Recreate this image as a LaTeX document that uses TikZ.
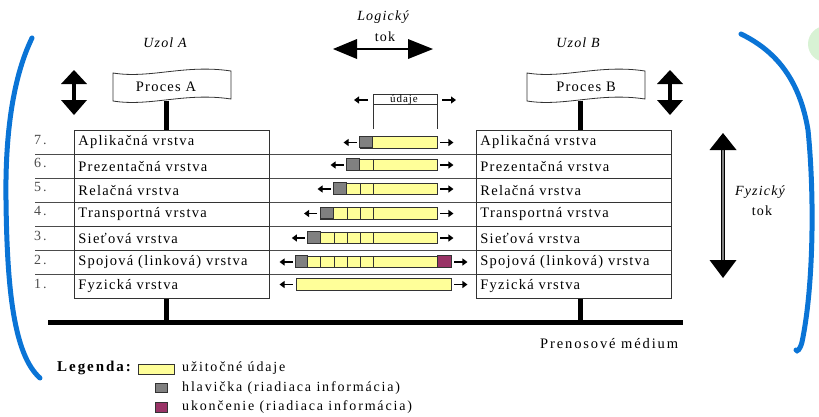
\documentclass[tikz,border=0pt]{standalone}
\usepackage{fontspec}
\setmainfont[LetterSpace=8.5]{Liberation Serif}
\newfontfamily\widefont[LetterSpace=13]{Liberation Serif}
\usetikzlibrary{arrows.meta}
\definecolor{payload}{HTML}{FFFF99}
\definecolor{hdrgray}{HTML}{808080}
\definecolor{trailer}{HTML}{993366}
\definecolor{penblue}{HTML}{0A74D6}
\definecolor{mint}{HTML}{D8F2D4}
\definecolor{edge}{gray}{0.2}
\definecolor{rule}{gray}{0.3}

\tikzset{
  txt/.style={inner sep=0pt, font=\fontsize{14}{16}\selectfont},
  itxt/.style={txt, font=\fontsize{14}{16}\selectfont\itshape},
  wtxt/.style={inner sep=0pt, anchor=west, font=\widefont\fontsize{14}{16}\selectfont},
  layer/.style={draw=edge, line width=0.9pt, minimum width=195pt, minimum height=24pt,
    text width=187pt, align=left, inner xsep=4pt, inner ysep=0pt, anchor=north west,
    font=\fontsize{14.5}{16}\selectfont},
  sepline/.style={draw=rule, line width=0.9pt},
  bar/.style={draw=edge, line width=0.9pt, fill=payload, minimum height=11.5pt, inner sep=0pt},
  cell/.style={draw=edge, line width=0.9pt},
  smallarr/.style={line width=1.1pt, -{Triangle[length=5pt,width=7pt]}},
  lnum/.style={inner sep=0pt, anchor=west, text=black!70, font=\widefont\fontsize{14}{15}\selectfont},
  stem/.style={line width=5pt},
}

\begin{document}
\begin{tikzpicture}[x=1pt,y=-1pt]
\useasboundingbox (0,0) rectangle (819,416);

% hand-drawn marks around the figure
\fill[mint] (826,44) circle (18);
\draw[penblue, line width=5pt, line cap=round]
  (32,38) .. controls (14,75) and (5,130) .. (6,200)
  .. controls (7,290) and (14,355) .. (40,378);
\draw[penblue, line width=5pt, line cap=round]
  (741,34) .. controls (778,52) and (800,82) .. (808,130)
  .. controls (815,200) and (813,290) .. (802,342)
  .. controls (800,350) and (797,352) .. (796,350);

% node headings
\node[itxt] (uzA) at (165,43) {Uzol A};
\node[itxt] (uzB) at (578,43) {Uzol B};

% logical flow
\node[itxt] (logt) at (383,17) {Logický};
\node[txt] (logt2) at (385,37) {tok};
\coordinate (lgL) at (333,49);
\coordinate (lgR) at (433,49);
\draw[line width=2.5pt] (lgL) ++(20,0) -- (413,49);
\fill (lgL) -- ++(24,-10) -- ++(0,20) -- cycle;
\fill (lgR) -- ++(-25,-10) -- ++(0,20) -- cycle;

% vertical double arrows next to the processes
\foreach \cx in {74,670}{
  \draw[line width=4pt] (\cx,82) -- (\cx,102);
  \fill (\cx,70) -- (\cx-13,84) -- (\cx+13,84) -- cycle;
  \fill (\cx,115) -- (\cx-13,100) -- (\cx+13,100) -- cycle;
}

% process banners
\draw[edge, line width=0.8pt, fill=white]
  (113,73) .. controls (150,79) and (185,64) .. (231,71) -- (231,99)
  .. controls (185,92) and (150,107) .. (113,101) -- cycle;
\node[txt, font=\fontsize{14.5}{16}\selectfont, minimum width=118pt, minimum height=28pt] (procA) at (166,87) {Proces A};
\draw[edge, line width=0.8pt, fill=white]
  (527,73) .. controls (564,79) and (599,64) .. (645,71) -- (645,99)
  .. controls (599,92) and (564,107) .. (527,101) -- cycle;
\node[txt, font=\fontsize{14.5}{16}\selectfont, minimum width=118pt, minimum height=28pt] (procB) at (586,87) {Proces B};

% layer stacks
\foreach \i/\t/\y in {7/Aplikačná vrstva/130, 6/Prezentačná vrstva/154, 5/Relačná vrstva/178,
    4/Transportná vrstva/202, 3/Sieťová vrstva/226, 2/Spojová (linková) vrstva/250, 1/Fyzická vrstva/274}{
  \node[layer] (A\i) at (74,\y) {\t};
  \node[layer] (B\i) at (476,\y) {\t};
}
\foreach \i/\y in {7/140,6/163,5/187,4/211,3/236,2/260,1/284}{
  \node[lnum] (n\i) at (34,\y) {\i.};
}

% boundaries between layers
\coordinate (lft) at (35,0);
\foreach \i in {7,6,5,4,3,2}{
  \draw[sepline] (A\i.south west) -- (A\i.south west -| lft);
  \draw[sepline] (A\i.south east) -- (B\i.south west);
}

% stems and transmission medium
\coordinate (sA) at (166,0);
\coordinate (sB) at (580,0);
\coordinate (medL) at (48,322);
\coordinate (medR) at (683,322);
\draw[stem] (procA.south -| sA) -- (A7.north -| sA);
\draw[stem] (procB.south -| sB) -- (B7.north -| sB);
\draw[stem] (A1.south -| sA) -- (medL -| sA);
\draw[stem] (B1.south -| sB) -- (medR -| sB);
\draw[stem] (medL) -- (medR);
\node[wtxt, font=\widefont\fontsize{14.5}{16}\selectfont] (med) at (540,344) {Prenosové médium};

% user data bracket
\draw[edge, line width=0.8pt] (373,129) -- (373,94) -- (437,94) -- (437,129);
\draw[edge, line width=0.8pt] (373,104.5) -- (437,104.5);
\node[inner sep=0pt, font=\fontsize{11}{12}\selectfont] (udaje) at (404,100) {údaje};
\draw[smallarr] (368,100) -- (354,100);
\draw[smallarr] (442,100) -- (456,100);

% encapsulated data units
\foreach \r/\s/\e/\yc in {7/360/437/142.5, 6/347/437/165, 5/334/437/189, 4/320.5/437/213.5,
    3/308.3/437/238, 2/296/451/262, 1/296/451/284.5}{
  \node[bar, minimum width={\e-\s}] (bar\r) at ({(\s+\e)/2},\yc) {};
  \draw[smallarr] ([xshift=-3pt]bar\r.west) -- ++(-13,0);
  \draw[smallarr] ([xshift=3pt]bar\r.east) -- ++(13,0);
}
% headers
\foreach \r/\w in {7/13, 6/13, 5/13, 4/13.5, 3/12.2, 2/12.3}{
  \draw[cell, fill=hdrgray] (bar\r.north west) rectangle ++(\w,11.5);
}
% trailer
\draw[cell, fill=trailer] (bar2.north east) rectangle ++(-14,11.5);
% cell dividers
\foreach \r/\ds in {6/{373}, 5/{360,373}, 4/{347,360,373}, 3/{334,347,360,373},
    2/{320.5,334,347,360,373}}{
  \foreach \x in \ds {
    \draw[cell] (bar\r.north -| \x,0) -- (bar\r.south -| \x,0);
  }
}

% physical flow
\draw[line width=4pt] (723,148) -- (723,262);
\draw[line width=1.8pt, gray] (723,148) -- (723,262);
\fill (723,133) -- (709.5,150) -- (736.5,150) -- cycle;
\fill (723,278) -- (709.5,260) -- (736.5,260) -- cycle;
\node[itxt] (fyz) at (760,192) {Fyzický};
\node[txt] (fyz2) at (762,211) {tok};

% legend
\node[inner sep=0pt, anchor=west, font=\widefont\fontsize{15}{16}\selectfont\bfseries] (leg) at (57,368) {Legenda:};
\draw[cell, fill=payload] (138,364) rectangle (174,374);
\node[wtxt] (l1) at (182,368) {užitočné údaje};
\draw[cell, fill=hdrgray] (155,383) rectangle (167,392);
\node[wtxt] (l2) at (182,388) {hlavička (riadiaca informácia)};
\draw[cell, fill=trailer] (155,402) rectangle (167,412);
\node[wtxt] (l3) at (182,407) {ukončenie (riadiaca informácia)};
\end{tikzpicture}
\end{document}
